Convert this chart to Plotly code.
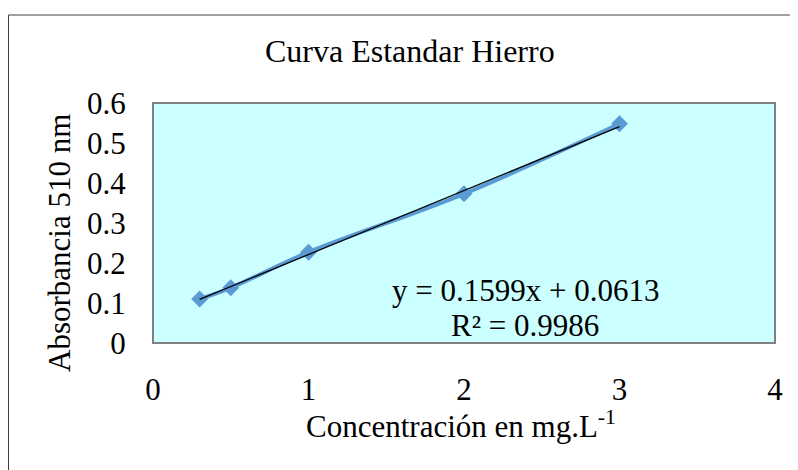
import plotly.graph_objects as go

# Data
concentracion = [0.3, 0.5, 1, 2, 3]
absorbancia = [0.110, 0.138, 0.227, 0.373, 0.548]
slope = 0.1599
intercept = 0.0613
r2 = 0.9986
x_ticks = [0, 1, 2, 3, 4]
y_ticks = [0, 0.1, 0.2, 0.3, 0.4, 0.5, 0.6]

OFF = 8  # default body margin of the html page
W, H = 790, 462
ml, mr, mt, mb = 145, 23, 95, 127
pw = W - ml - mr
ph = H - mt - mb


def sx(xs):
    """screen x -> paper x"""
    return (xs - OFF - ml) / pw


def sy(ys):
    """screen y -> paper y"""
    return (H - mb - (ys - OFF)) / ph


font_fam = "Liberation Serif, Times New Roman, serif"
FS = 31

fig = go.Figure()
fig.add_trace(go.Scatter(
    x=concentracion, y=absorbancia, mode="lines+markers",
    line=dict(color="#5B9BD5", width=4, shape="spline"),
    marker=dict(symbol="diamond", size=13, color="#5B9BD5"),
    showlegend=False,
))
tx = [min(concentracion), max(concentracion)]
fig.add_trace(go.Scatter(
    x=tx, y=[slope * v + intercept for v in tx], mode="lines",
    line=dict(color="black", width=1.3), showlegend=False,
))

fig.update_layout(
    width=W, height=H,
    margin=dict(l=ml, r=mr, t=mt, b=mb),
    paper_bgcolor="white", plot_bgcolor="rgba(0,0,0,0)",
    font=dict(family=font_fam, size=FS, color="black"),
    xaxis=dict(range=[0, 4], tickvals=x_ticks, showgrid=False, zeroline=False,
               showline=False, ticks="outside", ticklen=19, tickcolor="rgba(0,0,0,0)",
               tickfont=dict(size=FS)),
    yaxis=dict(range=[0, 0.6], tickvals=y_ticks, showgrid=False, zeroline=False,
               showline=False, ticks="outside", ticklen=20, tickcolor="rgba(0,0,0,0)",
               tickfont=dict(size=FS)),
    shapes=[
        dict(type="rect", xref="paper", yref="paper", x0=0, x1=sx(775), y0=0, y1=1,
             fillcolor="#CCFFFF", line=dict(color="#808080", width=2), layer="below"),
        dict(type="rect", xref="paper", yref="paper", x0=sx(8.5), x1=1.2, y0=-0.8, y1=sy(15),
             fillcolor="rgba(0,0,0,0)", line=dict(color="#404040", width=1), layer="below"),
    ],
    annotations=[
        dict(text="Curva Estandar Hierro", xref="paper", yref="paper", x=sx(410), y=sy(51),
             showarrow=False, font=dict(size=32), xanchor="center", yanchor="middle"),
        dict(text="Concentración en mg.L<sup>-1</sup>", xref="paper", yref="paper",
             x=sx(461), y=sy(424), showarrow=False, font=dict(size=FS),
             xanchor="center", yanchor="middle"),
        dict(text="Absorbancia 510 nm", xref="paper", yref="paper", x=sx(60), y=sy(243),
             showarrow=False, font=dict(size=FS), textangle=-90,
             xanchor="center", yanchor="middle"),
        dict(text=f"y = {slope}x + {intercept}", xref="paper", yref="paper",
             x=sx(525), y=sy(290), showarrow=False, font=dict(size=FS),
             xanchor="center", yanchor="middle"),
        dict(text=f"R² = {r2}", xref="paper", yref="paper",
             x=sx(525), y=sy(325), showarrow=False, font=dict(size=FS),
             xanchor="center", yanchor="middle"),
    ],
)

fig.write_html("out.html")
